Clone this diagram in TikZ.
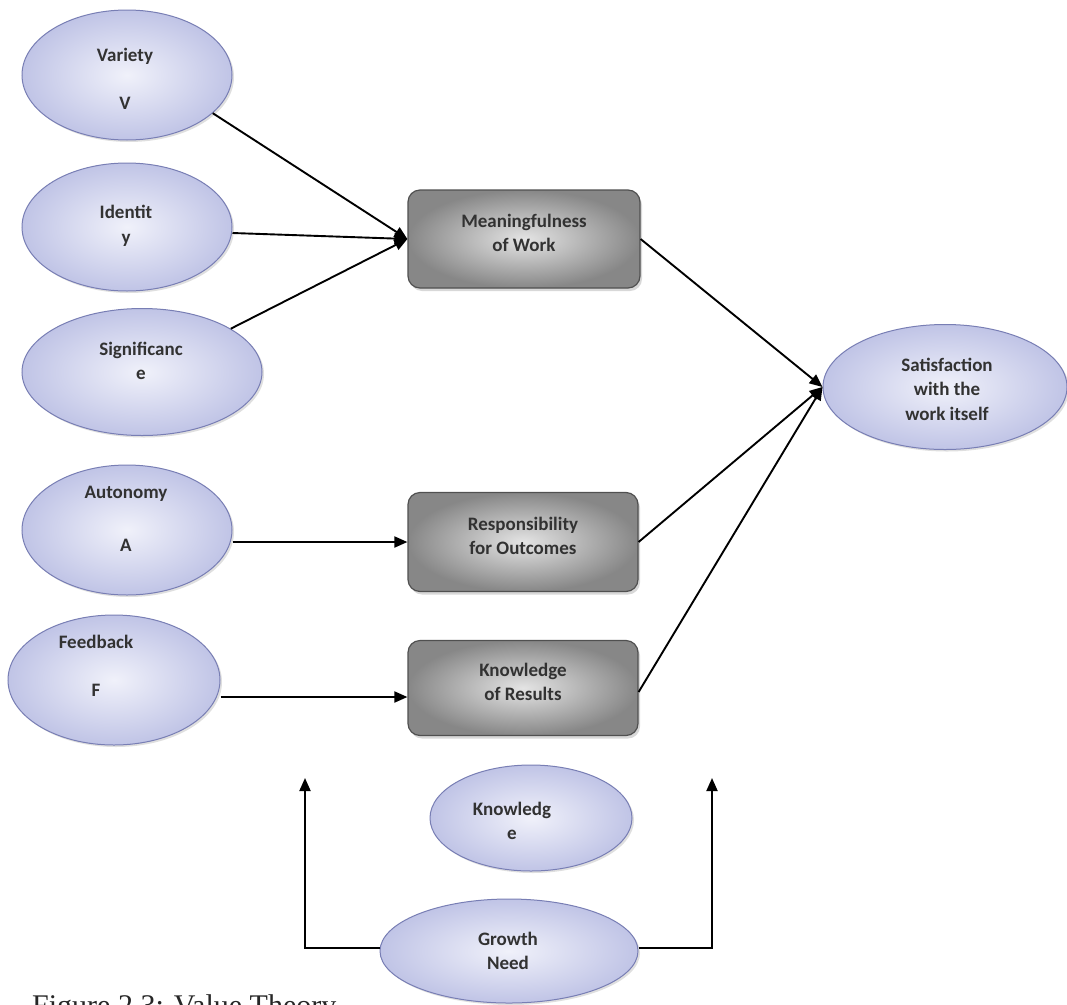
\documentclass[tikz,border=0pt]{standalone}
\usepackage{fontspec}
\setmainfont{Carlito}
\newfontfamily\capfont{Liberation Serif}
\usetikzlibrary{shapes.geometric,arrows.meta,shadows,calc}

\definecolor{ovalin}{RGB}{240,241,250}
\definecolor{ovalout}{RGB}{192,196,230}
\definecolor{ovaledge}{RGB}{120,126,180}
\definecolor{boxin}{RGB}{228,228,228}
\definecolor{boxout}{RGB}{135,135,135}
\definecolor{boxedge}{RGB}{80,80,80}
\definecolor{ink}{RGB}{50,50,50}

\tikzset{
  oval/.style={ellipse, draw=ovaledge, line width=1pt, shade,
    inner color=ovalin, outer color=ovalout, inner sep=0pt,
    drop shadow={shadow xshift=2pt, shadow yshift=-2pt, opacity=0.25}},
  stagebox/.style={rectangle, rounded corners=12pt, draw=boxedge, line width=1.2pt,
    shade, inner color=boxin, outer color=boxout, inner sep=0pt,
    drop shadow={shadow xshift=2pt, shadow yshift=-3pt, opacity=0.3}},
  txt/.style={align=center, text=ink, font=\bfseries\fontsize{19}{24.4}\selectfont, inner sep=0pt},
  link/.style={draw=black, line width=1.9pt, -{Triangle[length=13pt,width=11pt]}}
}

\begin{document}
\begin{tikzpicture}[x=1pt,y=-1pt]
  \useasboundingbox (0,0) rectangle (1067,1004);
  \clip (0,0) rectangle (1067,1004);
  \fill[white] (0,0) rectangle (1067,1004);

  % job characteristics
  \node[oval, minimum width=210pt, minimum height=130pt] (variety) at (127,75) {};
  \node[txt] (varietyt) at (125,79) {Variety\\[24pt]V};
  \node[oval, minimum width=210pt, minimum height=128pt] (identity) at (127,227) {};
  \node[txt] (identityt) at (126,226) {Identit\\y};
  \node[oval, minimum width=240pt, minimum height=127pt] (signif) at (142,372) {};
  \node[txt] (signift) at (141,361) {Significanc\\e};
  \node[oval, minimum width=210pt, minimum height=130pt] (autonomy) at (127,530) {};
  \node[txt] (autonomyt) at (126,519) {Autonomy\\[28pt]A};
  \node[oval, minimum width=212pt, minimum height=130pt] (feedback) at (114,680) {};
  \node[txt] (feedbackt) at (96,666) {Feedback\\[24pt]F};

  % psychological states
  \node[stagebox, minimum width=232pt, minimum height=98pt] (mean) at (524,239) {};
  \node[txt] (meant) at (524,233) {Meaningfulness\\of Work};
  \node[stagebox, minimum width=230pt, minimum height=99pt] (resp) at (523,542) {};
  \node[txt] (respt) at (523,536) {Responsibility\\for Outcomes};
  \node[stagebox, minimum width=230pt, minimum height=95pt] (kor) at (523,688) {};
  \node[txt] (kort) at (523,682) {Knowledge\\of Results};

  % outcome
  \node[oval, minimum width=244pt, minimum height=125pt] (satis) at (945,387) {};
  \node[txt] (satist) at (947,389) {Satisfaction\\with the\\work itself};

  % moderators
  \node[oval, minimum width=202pt, minimum height=106pt] (knowl) at (531,818) {};
  \node[txt] (knowlt) at (512,821) {Knowledg\\e};
  \node[oval, minimum width=258pt, minimum height=104pt] (growth) at (509,951) {};
  \node[txt] (growtht) at (508,951) {Growth\\Need};

  \coordinate (upL) at (305,778);
  \coordinate (upR) at (712,778);

  % connectors
  \draw[link] (variety.-24) -- (mean.west);
  \draw[link] (identity.east |- 0,233) -- (mean.west);
  \draw[link] (signif.26) -- (mean.west);
  \draw[link] (autonomy.east |- resp.west) -- (resp.west);
  \draw[link] (feedback.east |- 0,697) -- ($(kor.west)+(0,9)$);
  \draw[link] (mean.east) -- (satis.west);
  \draw[link] (resp.east) -- (satis.west);
  \draw[link] ($(kor.east)+(0,4)$) -- (satis.west);
  \draw[link] (growth.west |- 0,948) -| (upL);
  \draw[link] (growth.east |- 0,948) -| (upR);

  % caption
  \node[anchor=base west, inner sep=0pt, font=\capfont\fontsize{30}{36}\selectfont, text=black!85] (caption) at (32,1015) {Figure 2.3: Value Theory};
\end{tikzpicture}
\end{document}
